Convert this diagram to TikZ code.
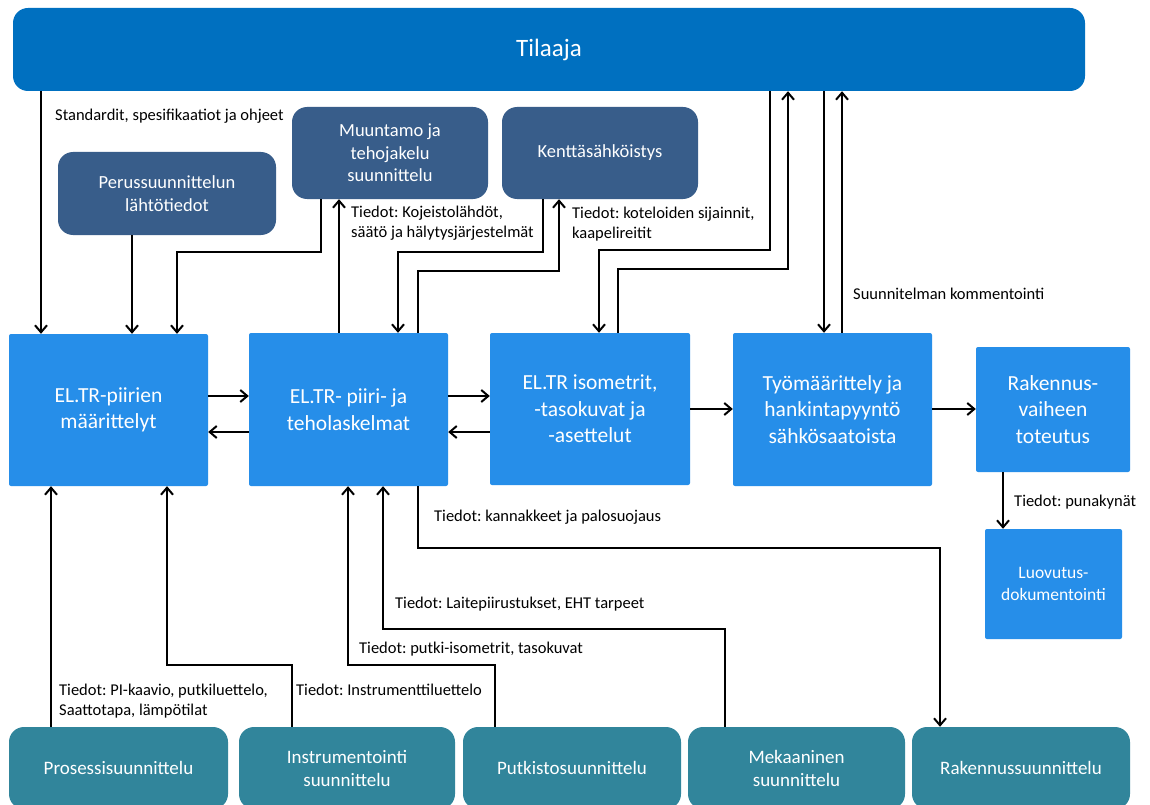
\documentclass[tikz,border=0pt]{standalone}
\usepackage{fontspec}
\setmainfont{Carlito}
\usetikzlibrary{arrows.meta}
\frenchspacing
\definecolor{tilc}{RGB}{0,112,192}
\definecolor{darkc}{RGB}{56,93,138}
\definecolor{lightc}{RGB}{38,142,233}
\definecolor{tealc}{RGB}{49,133,155}
\tikzset{
  base/.style={inner sep=0pt, text=white, align=center},
  tilbox/.style={base, fill=tilc, rounded corners=15pt, font=\fontsize{25}{30}\selectfont},
  darkbox/.style={base, fill=darkc, rounded corners=15pt, font=\fontsize{18.5}{22.5}\selectfont},
  lbox/.style={base, fill=lightc, rounded corners=2pt, font=\fontsize{21.5}{26.5}\selectfont},
  sbox/.style={base, fill=lightc, rounded corners=2pt, font=\fontsize{17.5}{22}\selectfont},
  tbox/.style={base, fill=tealc, rounded corners=15pt, font=\fontsize{19}{23}\selectfont},
  lab/.style={inner sep=0pt, text=black, align=left, anchor=west, font=\fontsize{16.5}{20}\selectfont},
  arr/.style={draw=black, line width=2pt, -{Straight Barb[length=7pt,width=12pt,line width=2pt]}}
}
\begin{document}
\begin{tikzpicture}[x=1pt,y=-1pt]
\useasboundingbox (0,0) rectangle (1150,805);
\clip (0,0) rectangle (1150,805);
\fill[white] (0,0) rectangle (1150,805);
% nodes
\node[tilbox, minimum width=1072pt, minimum height=83pt] (til) at (549,49.5) {Tilaaja};
\node[darkbox, minimum width=218pt, minimum height=83pt] (per) at (167,193.5) {Perussuunnittelun\\lähtötiedot};
\node[darkbox, minimum width=196pt, minimum height=92pt] (muu) at (390,153) {Muuntamo ja\\tehojakelu\\suunnittelu};
\node[darkbox, minimum width=196pt, minimum height=92pt] (ken) at (600,153) {Kenttäsähköistys};
\node[lbox, minimum width=199pt, minimum height=152pt] (pii) at (108.5,410) {EL.TR-piirien\\määrittelyt};
\node[lbox, minimum width=199pt, minimum height=153pt] (lask) at (348.5,409.5) {EL.TR- piiri- ja\\teholaskelmat};
\node[lbox, minimum width=200pt, minimum height=152pt] (iso) at (590,409) {EL.TR isometrit,\\-tasokuvat ja\\-asettelut};
\node[lbox, minimum width=199pt, minimum height=153pt] (tyo) at (832.5,409.5) {Työmäärittely ja\\hankintapyyntö\\sähkösaatoista};
\node[lbox, minimum width=154pt, minimum height=125pt] (rak) at (1053,409.5) {Rakennus-\\vaiheen\\toteutus};
\node[sbox, minimum width=137pt, minimum height=110pt] (luo) at (1053.5,584) {Luovutus-\\dokumentointi};
\node[tbox, minimum width=219pt, minimum height=82pt] (pro) at (118.5,768) {Prosessisuunnittelu};
\node[tbox, minimum width=216pt, minimum height=82pt] (ins) at (347,768) {Instrumentointi\\suunnittelu};
\node[tbox, minimum width=218pt, minimum height=82pt] (put) at (572,768) {Putkistosuunnittelu};
\node[tbox, minimum width=217pt, minimum height=82pt] (mek) at (796.5,768) {Mekaaninen\\suunnittelu};
\node[tbox, minimum width=218pt, minimum height=82pt] (rks) at (1021,768) {Rakennussuunnittelu};
% labels
\node[lab] (l1) at (55,116) {Standardit, spesifikaatiot ja ohjeet};
\node[lab] (l2) at (351,223.5) {Tiedot: Kojeistolähdöt,\\säätö ja hälytysjärjestelmät};
\node[lab] (l3) at (572,224) {Tiedot: koteloiden sijainnit,\\kaapelireitit};
\node[lab] (l4) at (853,294) {Suunnitelman kommentointi};
\node[lab] (l5) at (1014,502) {Tiedot: punakynät};
\node[lab] (l6) at (434,517) {Tiedot: kannakkeet ja palosuojaus};
\node[lab] (l7) at (395,604) {Tiedot: Laitepiirustukset, EHT tarpeet};
\node[lab] (l8) at (359,649) {Tiedot: putki-isometrit, tasokuvat};
\node[lab] (l9) at (296,690) {Tiedot: Instrumenttiluettelo};
\node[lab] (l10) at (59,701) {Tiedot: PI-kaavio, putkiluettelo,\\Saattotapa, lämpötilat};
% connectors
\draw[arr] (41,0 |- til.south) -- (41,0 |- pii.north);
\draw[arr] (132,0 |- per.south) -- (132,0 |- pii.north);
\draw[arr] (321,0 |- muu.south) |- (177,252) -- (177,0 |- pii.north);
\draw[arr] (339,0 |- lask.north) -- (339,0 |- muu.south);
\draw[arr] (543,0 |- ken.south) |- (398,252) -- (398,0 |- lask.north);
\draw[arr] (418,0 |- lask.north) |- (559,271) -- (559,0 |- ken.south);
\draw[arr] (770,0 |- til.south) |- (599,250) -- (599,0 |- iso.north);
\draw[arr] (618,0 |- iso.north) |- (788,269) -- (788,0 |- til.south);
\draw[arr] (824,0 |- til.south) -- (824,0 |- tyo.north);
\draw[arr] (842,0 |- tyo.north) -- (842,0 |- til.south);
\draw[arr] (pii.east |- 0,396) -- (lask.west |- 0,396);
\draw[arr] (lask.west |- 0,432) -- (pii.east |- 0,432);
\draw[arr] (lask.east |- 0,396) -- (iso.west |- 0,396);
\draw[arr] (iso.west |- 0,432) -- (lask.east |- 0,432);
\draw[arr] (iso.east |- 0,409) -- (tyo.west |- 0,409);
\draw[arr] (tyo.east |- 0,409) -- (rak.west |- 0,409);
\draw[arr] (1003,0 |- rak.south) -- (1003,0 |- luo.north);
\draw[arr] (51,0 |- pro.north) -- (51,0 |- pii.south);
\draw[arr] (292,0 |- ins.north) |- (167,665) -- (167,0 |- pii.south);
\draw[arr] (495,0 |- put.north) |- (348,665) -- (348,0 |- lask.south);
\draw[arr] (725,0 |- mek.north) |- (383,629) -- (383,0 |- lask.south);
\draw[arr] (418,0 |- lask.south) |- (940,548) -- (940,0 |- rks.north);
\end{tikzpicture}
\end{document}
